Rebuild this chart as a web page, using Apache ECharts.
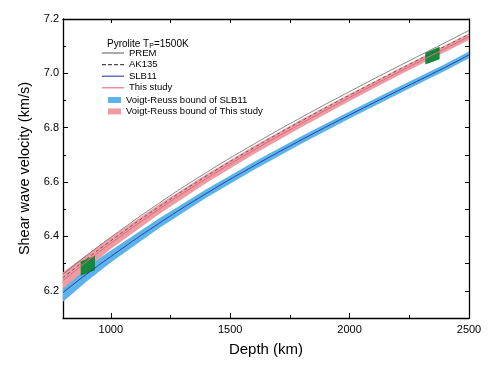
<!DOCTYPE html>
<html><head><meta charset="utf-8">
<script src="https://cdn.jsdelivr.net/npm/echarts@6/dist/echarts.min.js"></script>
<style>html,body{margin:0;padding:0;background:#fff}#c{width:500px;height:369px}</style>
</head><body><div id="c"></div>
<script>
// ---- data ----
const depth    = [800, 900, 1000, 1200, 1400, 1600, 1800, 2000, 2200, 2400, 2500];
const prem     = [6.261, 6.331, 6.397, 6.521, 6.635, 6.740, 6.839, 6.933, 7.024, 7.113, 7.158];
const ak135    = [6.248, 6.318, 6.384, 6.508, 6.622, 6.727, 6.826, 6.920, 7.011, 7.100, 7.144];
const slb11    = [6.194, 6.262, 6.326, 6.447, 6.558, 6.660, 6.756, 6.847, 6.935, 7.022, 7.068];
const thisStudy= [6.238, 6.308, 6.375, 6.499, 6.613, 6.718, 6.817, 6.911, 7.002, 7.091, 7.135];
const slbLow   = [6.160, 6.235, 6.304, 6.429, 6.542, 6.645, 6.742, 6.834, 6.922, 7.010, 7.056];
const slbHigh  = [6.228, 6.289, 6.348, 6.465, 6.574, 6.675, 6.770, 6.860, 6.948, 7.034, 7.080];
const tsLow    = [6.208, 6.283, 6.354, 6.481, 6.597, 6.703, 6.803, 6.898, 6.990, 7.079, 7.123];
const tsHigh   = [6.268, 6.333, 6.396, 6.517, 6.629, 6.733, 6.831, 6.924, 7.014, 7.103, 7.147];
const greenA   = [[874, 6.255], [874, 6.308], [934, 6.329], [934, 6.276]];
const greenB   = [[2317, 7.033], [2317, 7.076], [2377, 7.098], [2377, 7.052]];
const xMajor   = [1000, 1500, 2000, 2500];
const xMinor   = [1250, 1750, 2250];
const yMajor   = [6.2, 6.4, 6.6, 6.8, 7.0, 7.2];
const yMinor   = [6.1, 6.3, 6.5, 6.7, 6.9, 7.1];

const FONT = 'Liberation Sans, Arial, Helvetica, sans-serif';
const pair = (xs, ys) => xs.map((x, i) => [x, ys[i]]);
const axisLine = {show: true, onZero: false, lineStyle: {color: '#000', width: 1.3}};
const tickStyle = {color: '#000', width: 1};

function poly(corners, fill) {
  return function (params, api) {
    if (params.dataIndex !== 0) return null;
    return {type: 'polygon', shape: {points: corners.map(c => api.coord(c))},
            style: {fill: fill}};
  };
}
function band(lo, hi, fill) {
  const pts = pair(depth, hi).concat(pair(depth, lo).reverse());
  return function (params, api) {
    if (params.dataIndex !== 0) return null;
    return {type: 'polygon', shape: {points: pts.map(c => api.coord(c))},
            style: {fill: fill}};
  };
}

const LINE = 'path://M0,0H20V1H0Z';
const DASH = 'path://M0,0H3.5V1H0Z M5.5,0H9V1H5.5Z M11,0H14.5V1H11Z M16.5,0H20V1H16.5Z';
const BLUE = '#5cb3ea', PINK = '#f09aa3';

const chart = echarts.init(document.getElementById('c'), null, {renderer: 'canvas'});
chart.setOption({
  animation: false,
  textStyle: {fontFamily: FONT},
  grid: {left: 63, right: 31, top: 19, bottom: 51, containLabel: false, outerBoundsMode: 'none'},
  title: {
    text: 'Pyrolite T{s|P}=1500K', left: 102, top: 33,
    textStyle: {fontSize: 10, fontWeight: 'normal', color: '#000', fontFamily: FONT,
      rich: {s: {fontSize: 7, padding: [5, 0, 0, 0], color: '#000', fontFamily: FONT}}}
  },
  legend: [
    {data: [{name: 'PREM', icon: LINE}, {name: 'AK135', icon: DASH},
            {name: 'SLB11', icon: LINE}, {name: 'This study', icon: LINE}],
     orient: 'vertical', left: 102, top: 48, itemWidth: 22, itemHeight: 1.1, itemGap: 1.6, padding: 0,
     textStyle: {fontSize: 9.5, lineHeight: 10, color: '#000', fontFamily: FONT}},
    {data: [{name: 'Voigt-Reuss bound of SLB11', icon: 'rect'}, {name: 'Voigt-Reuss bound of This study', icon: 'rect'}],
     orient: 'vertical', left: 108, top: 95, itemWidth: 13, itemHeight: 6, itemGap: 1.4, padding: 0,
     textStyle: {fontSize: 9.5, lineHeight: 10, color: '#000', fontFamily: FONT}}
  ],
  xAxis: [
    {type: 'value', min: 800, max: 2500, interval: 100, position: 'bottom',
     axisLine: axisLine, splitLine: {show: false},
     axisTick: {show: true, inside: true, length: 5, customValues: xMajor, lineStyle: tickStyle},
     axisLabel: {customValues: xMajor, fontSize: 11, color: '#000', margin: 6, fontFamily: FONT,
                 formatter: v => String(v)},
     name: 'Depth (km)', nameLocation: 'middle', nameGap: 24,
     nameTextStyle: {fontSize: 15, color: '#000', fontFamily: FONT}},
    {type: 'value', min: 800, max: 2500, interval: 100, position: 'bottom',
     axisLine: {show: false}, splitLine: {show: false}, axisLabel: {show: false},
     axisTick: {show: true, inside: true, length: 3, customValues: xMinor, lineStyle: tickStyle}},
    {type: 'value', min: 800, max: 2500, interval: 100, position: 'top',
     axisLine: axisLine, splitLine: {show: false}, axisLabel: {show: false},
     axisTick: {show: true, inside: true, length: 4, customValues: xMajor.concat(xMinor), lineStyle: tickStyle}}
  ],
  yAxis: [
    {type: 'value', min: 6.1, max: 7.2, interval: 0.1, position: 'left',
     axisLine: axisLine, splitLine: {show: false},
     axisTick: {show: true, inside: true, length: 5, customValues: yMajor, lineStyle: tickStyle},
     axisLabel: {customValues: yMajor, fontSize: 11, color: '#000', margin: 4, fontFamily: FONT,
                 formatter: v => v.toFixed(1)},
     name: 'Shear wave velocity (km/s)', nameLocation: 'middle', nameGap: 31,
     nameTextStyle: {fontSize: 14.5, color: '#000', fontFamily: FONT}},
    {type: 'value', min: 6.1, max: 7.2, interval: 0.1, position: 'left',
     axisLine: {show: false}, splitLine: {show: false}, axisLabel: {show: false},
     axisTick: {show: true, inside: true, length: 3, customValues: yMinor, lineStyle: tickStyle}},
    {type: 'value', min: 6.1, max: 7.2, interval: 0.1, position: 'right',
     axisLine: axisLine, splitLine: {show: false}, axisLabel: {show: false},
     axisTick: {show: true, inside: true, length: 4, customValues: yMajor.concat(yMinor), lineStyle: tickStyle}}
  ],
  series: [
    {type: 'custom', name: 'Voigt-Reuss bound of SLB11', data: pair(depth, slbHigh),
     renderItem: band(slbLow, slbHigh, BLUE), encode: {x: 0, y: 1}, itemStyle: {color: BLUE}, silent: true, clip: true},
    {type: 'custom', name: 'Voigt-Reuss bound of This study', data: pair(depth, tsHigh),
     renderItem: band(tsLow, tsHigh, PINK), encode: {x: 0, y: 1}, itemStyle: {color: PINK}, silent: true, clip: true},
    {type: 'line', name: 'SLB11', data: pair(depth, slb11), smooth: true, symbol: 'none',
     itemStyle: {color: '#2a3fa8'}, lineStyle: {color: '#2a3fa8', width: 1}},
    {type: 'line', name: 'This study', data: pair(depth, thisStudy), smooth: true, symbol: 'none',
     itemStyle: {color: '#e06a78'}, lineStyle: {color: '#e06a78', width: 1}},
    {type: 'line', name: 'AK135', data: pair(depth, ak135), smooth: true, symbol: 'none',
     itemStyle: {color: '#444'}, lineStyle: {color: '#444', width: 0.8, type: [3, 3]}},
    {type: 'line', name: 'PREM', data: pair(depth, prem), smooth: true, symbol: 'none',
     itemStyle: {color: '#666'}, lineStyle: {color: '#666', width: 0.8}},
    {type: 'custom', name: 'g1', data: greenA, renderItem: poly(greenA, '#168a3a'), encode: {x: 0, y: 1}, silent: true},
    {type: 'custom', name: 'g2', data: greenB, renderItem: poly(greenB, '#168a3a'), encode: {x: 0, y: 1}, silent: true}
  ]
});
</script>
</body></html>
